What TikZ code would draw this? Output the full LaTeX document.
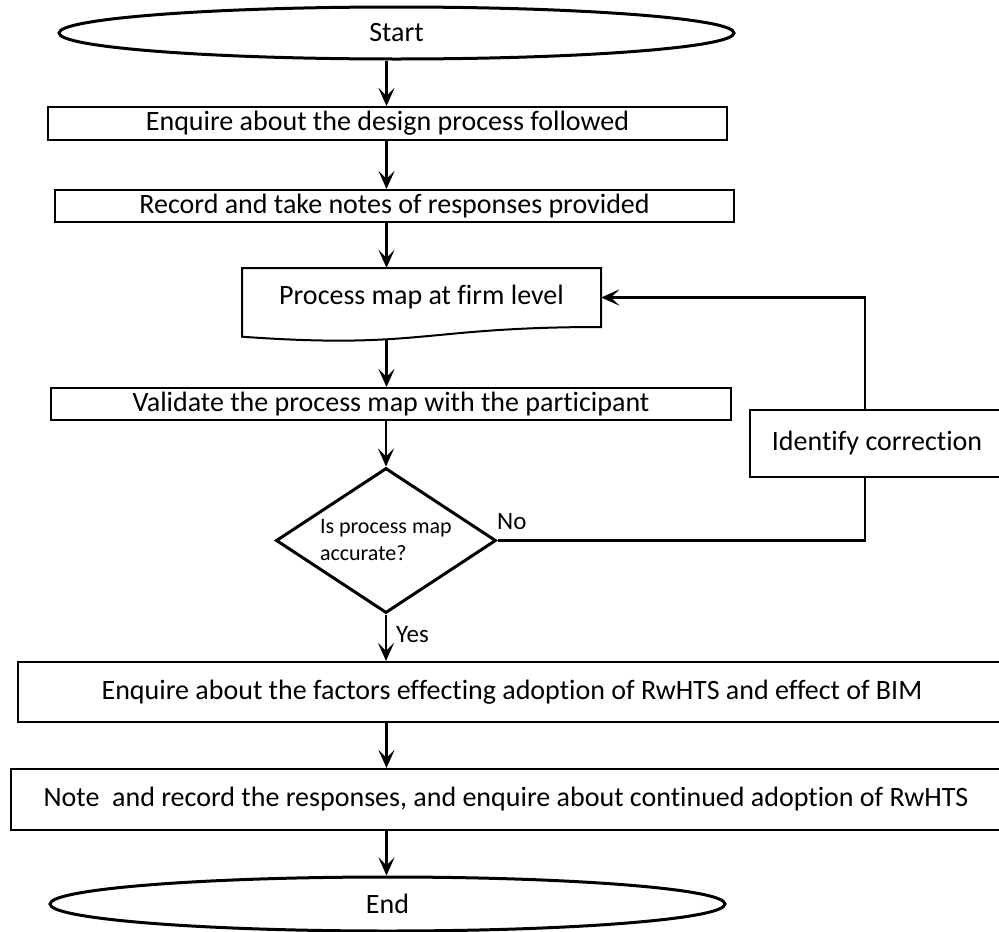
\documentclass[tikz,border=0pt]{standalone}
\usepackage{fontspec}
\setmainfont{Carlito}[Ligatures={NoCommon}]
\usetikzlibrary{shapes.geometric,arrows.meta,calc}
\begin{document}
\begin{tikzpicture}[x=1pt,y=-1pt,
  every node/.style={font=\fontsize{28}{33}\selectfont, inner sep=0pt},
  stepbox/.style={draw, rectangle, line width=2pt},
  terminal/.style={draw, ellipse, line width=3pt},
  decision/.style={draw, diamond, aspect=1.5, line width=3pt,
                   align=left, font=\fontsize{22}{27}\selectfont},
  arr/.style={line width=2.5pt, -{Stealth[length=18pt,width=16pt,inset=8pt]}},
  link/.style={line width=2.5pt},
  tag/.style={anchor=west, font=\fontsize{25}{30}\selectfont}
]
% page
\fill[white] (0,0) rectangle (999,932);
\useasboundingbox (0,0) rectangle (999,932);

% main column of steps
\node[terminal, minimum width=675pt, minimum height=52pt] (start) at (396.5,33) {Start};
\node[stepbox, minimum width=679pt, minimum height=33pt] (enq) at (387.5,123.5)
  {Enquire about the design process followed};
\node[stepbox, minimum width=679pt, minimum height=32pt] (rec) at (394.5,206)
  {Record and take notes of responses provided};

% document shape (wavy bottom edge)
\draw[line width=2pt] (242,268) -- (601,268) -- (601,327)
  .. controls (421.5,327) and (421.5,349.5) .. (242,336.7) -- cycle;
\node[minimum width=359pt, minimum height=59pt] (map) at (421.5,297.5)
  {Process map at firm level};
\coordinate (mapfoot) at (386.5,340);

\node[stepbox, minimum width=680pt, minimum height=32pt] (val) at (391,404)
  {Validate the process map with the participant};
\node[decision, minimum width=220pt, minimum height=145pt] (acc) at (386,540.5)
  {\raisebox{-3pt}{\parbox{132pt}{\baselineskip=27pt Is process map\\accurate?}}};
\node[stepbox, minimum width=254pt, minimum height=67pt] (fix) at (877,443.5)
  {Identify correction};
\node[stepbox, minimum width=988pt, minimum height=60pt] (fac) at (512,692)
  {Enquire about the factors effecting adoption of RwHTS and effect of BIM};
\node[stepbox, minimum width=990pt, minimum height=61pt] (note) at (506,799.5)
  {Note~ and record the responses, and enquire about continued adoption of RwHTS};
\node[terminal, minimum width=675pt, minimum height=54pt] (end) at (387.5,904) {End};

% branch labels
\node[tag] (no) at (497,522) {No};
\node[tag] (yes) at (396,635) {Yes};

% connectors along the spine
\coordinate (spine) at (386.5,0);
\draw[arr] (start.south -| spine) -- (enq.north -| spine);
\draw[arr] (enq.south -| spine) -- (rec.north -| spine);
\draw[arr] (rec.south -| spine) -- (map.north -| spine);
\draw[arr] (mapfoot) -- (val.north -| spine);
\draw[arr] (val.south -| acc.north) -- (acc.north);
\draw[arr] (acc.south) -- (fac.north -| acc.south);
\draw[arr] (fac.south -| spine) -- (note.north -| spine);
\draw[arr] (note.south -| spine) -- (end.north -| spine);

% correction loop
\draw[link] (acc.east) -| ([xshift=-12pt]fix.south);
\draw[arr] ([xshift=-12pt]fix.north) |- (map.east);
\end{tikzpicture}
\end{document}
